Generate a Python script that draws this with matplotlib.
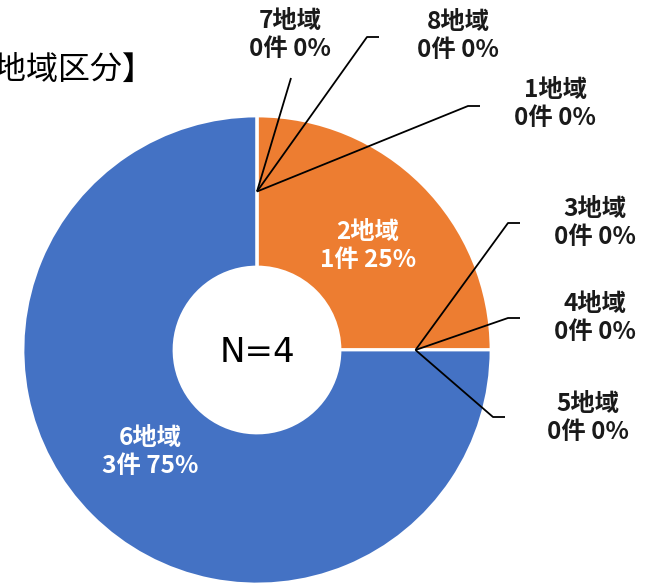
import matplotlib
matplotlib.use("Agg")
import matplotlib.pyplot as plt
import numpy as np

plt.rcParams['font.family'] = ['Noto Sans CJK JP', 'DejaVu Sans']

# ---- data ----
regions = ['1地域', '2地域', '3地域', '4地域', '5地域', '6地域', '7地域', '8地域']
counts = [0, 1, 0, 0, 0, 3, 0, 0]
colors = ['#A5A5A5', '#ED7D31', '#FFC000', '#5B9BD5', '#70AD47', '#4472C4', '#264478', '#9E480E']
title = '【地域区分】'
center_text = 'N=4'

W, H = 646, 584
fig = plt.figure(figsize=(W / 100, H / 100), dpi=100)
ax = fig.add_axes([0, 0, 1, 1])

cx, cy = 257, H - 350
R, r_in = 234, 83
total = sum(counts)

ax.pie(counts, radius=R, center=(cx, cy), startangle=90, counterclock=False,
       colors=colors, wedgeprops=dict(width=R - r_in, edgecolor='white', linewidth=2))
ax.set_xlim(0, W)
ax.set_ylim(0, H)
ax.set_aspect('equal')
ax.axis('off')

def Y(y):  # convert top-down pixel y to axes coords
    return H - y

# label layout (text centre, leader elbow end, horizontal end) in top-down pixels
layout = {
    0: ((555, 104), (468, 106), (480, 106)),
    2: ((595, 223), (508, 223), (520, 223)),
    3: ((595, 318), (508, 318), (520, 318)),
    4: ((588, 418), (493, 417), (505, 417)),
    6: ((290, 35), (291, 78), None),
    7: ((458, 36), (367, 37), (379, 37)),
}
inside = {1: (368, 246), 5: (150, 452)}

FS = 17.5
cum = 0.0
r_mid = (R + r_in) / 2
for i, (name, c) in enumerate(zip(regions, counts)):
    frac = c / total
    mid = cum + frac / 2
    cum += frac
    ang = np.deg2rad(90 - 360 * mid)
    px, py = cx + r_mid * np.cos(ang), cy + r_mid * np.sin(ang)
    pct = round(100 * frac)
    label = f'{name}\n{c}件 {pct}%'
    if i in inside:
        tx, ty = inside[i]
        ax.text(tx, Y(ty), label, ha='center', va='center', color='white',
                fontsize=FS, fontweight='bold', linespacing=1.18)
    else:
        (tx, ty), e1, e2 = layout[i]
        xs = [px, e1[0]]
        ys = [py, Y(e1[1])]
        if e2 is not None:
            xs.append(e2[0]); ys.append(Y(e2[1]))
        ax.plot(xs, ys, color='black', lw=1.3, solid_capstyle='butt')
        ax.text(tx, Y(ty), label, ha='center', va='center', color='#1a1a1a',
                fontsize=FS, fontweight='bold', linespacing=1.18)

ax.text(cx, Y(352), center_text, ha='center', va='center', fontsize=24.5, color='black',
        family=['DejaVu Sans'])
ax.text(155, Y(70), title, ha='right', va='center', fontsize=23, color='black')

fig.savefig('out.png', dpi=100)
